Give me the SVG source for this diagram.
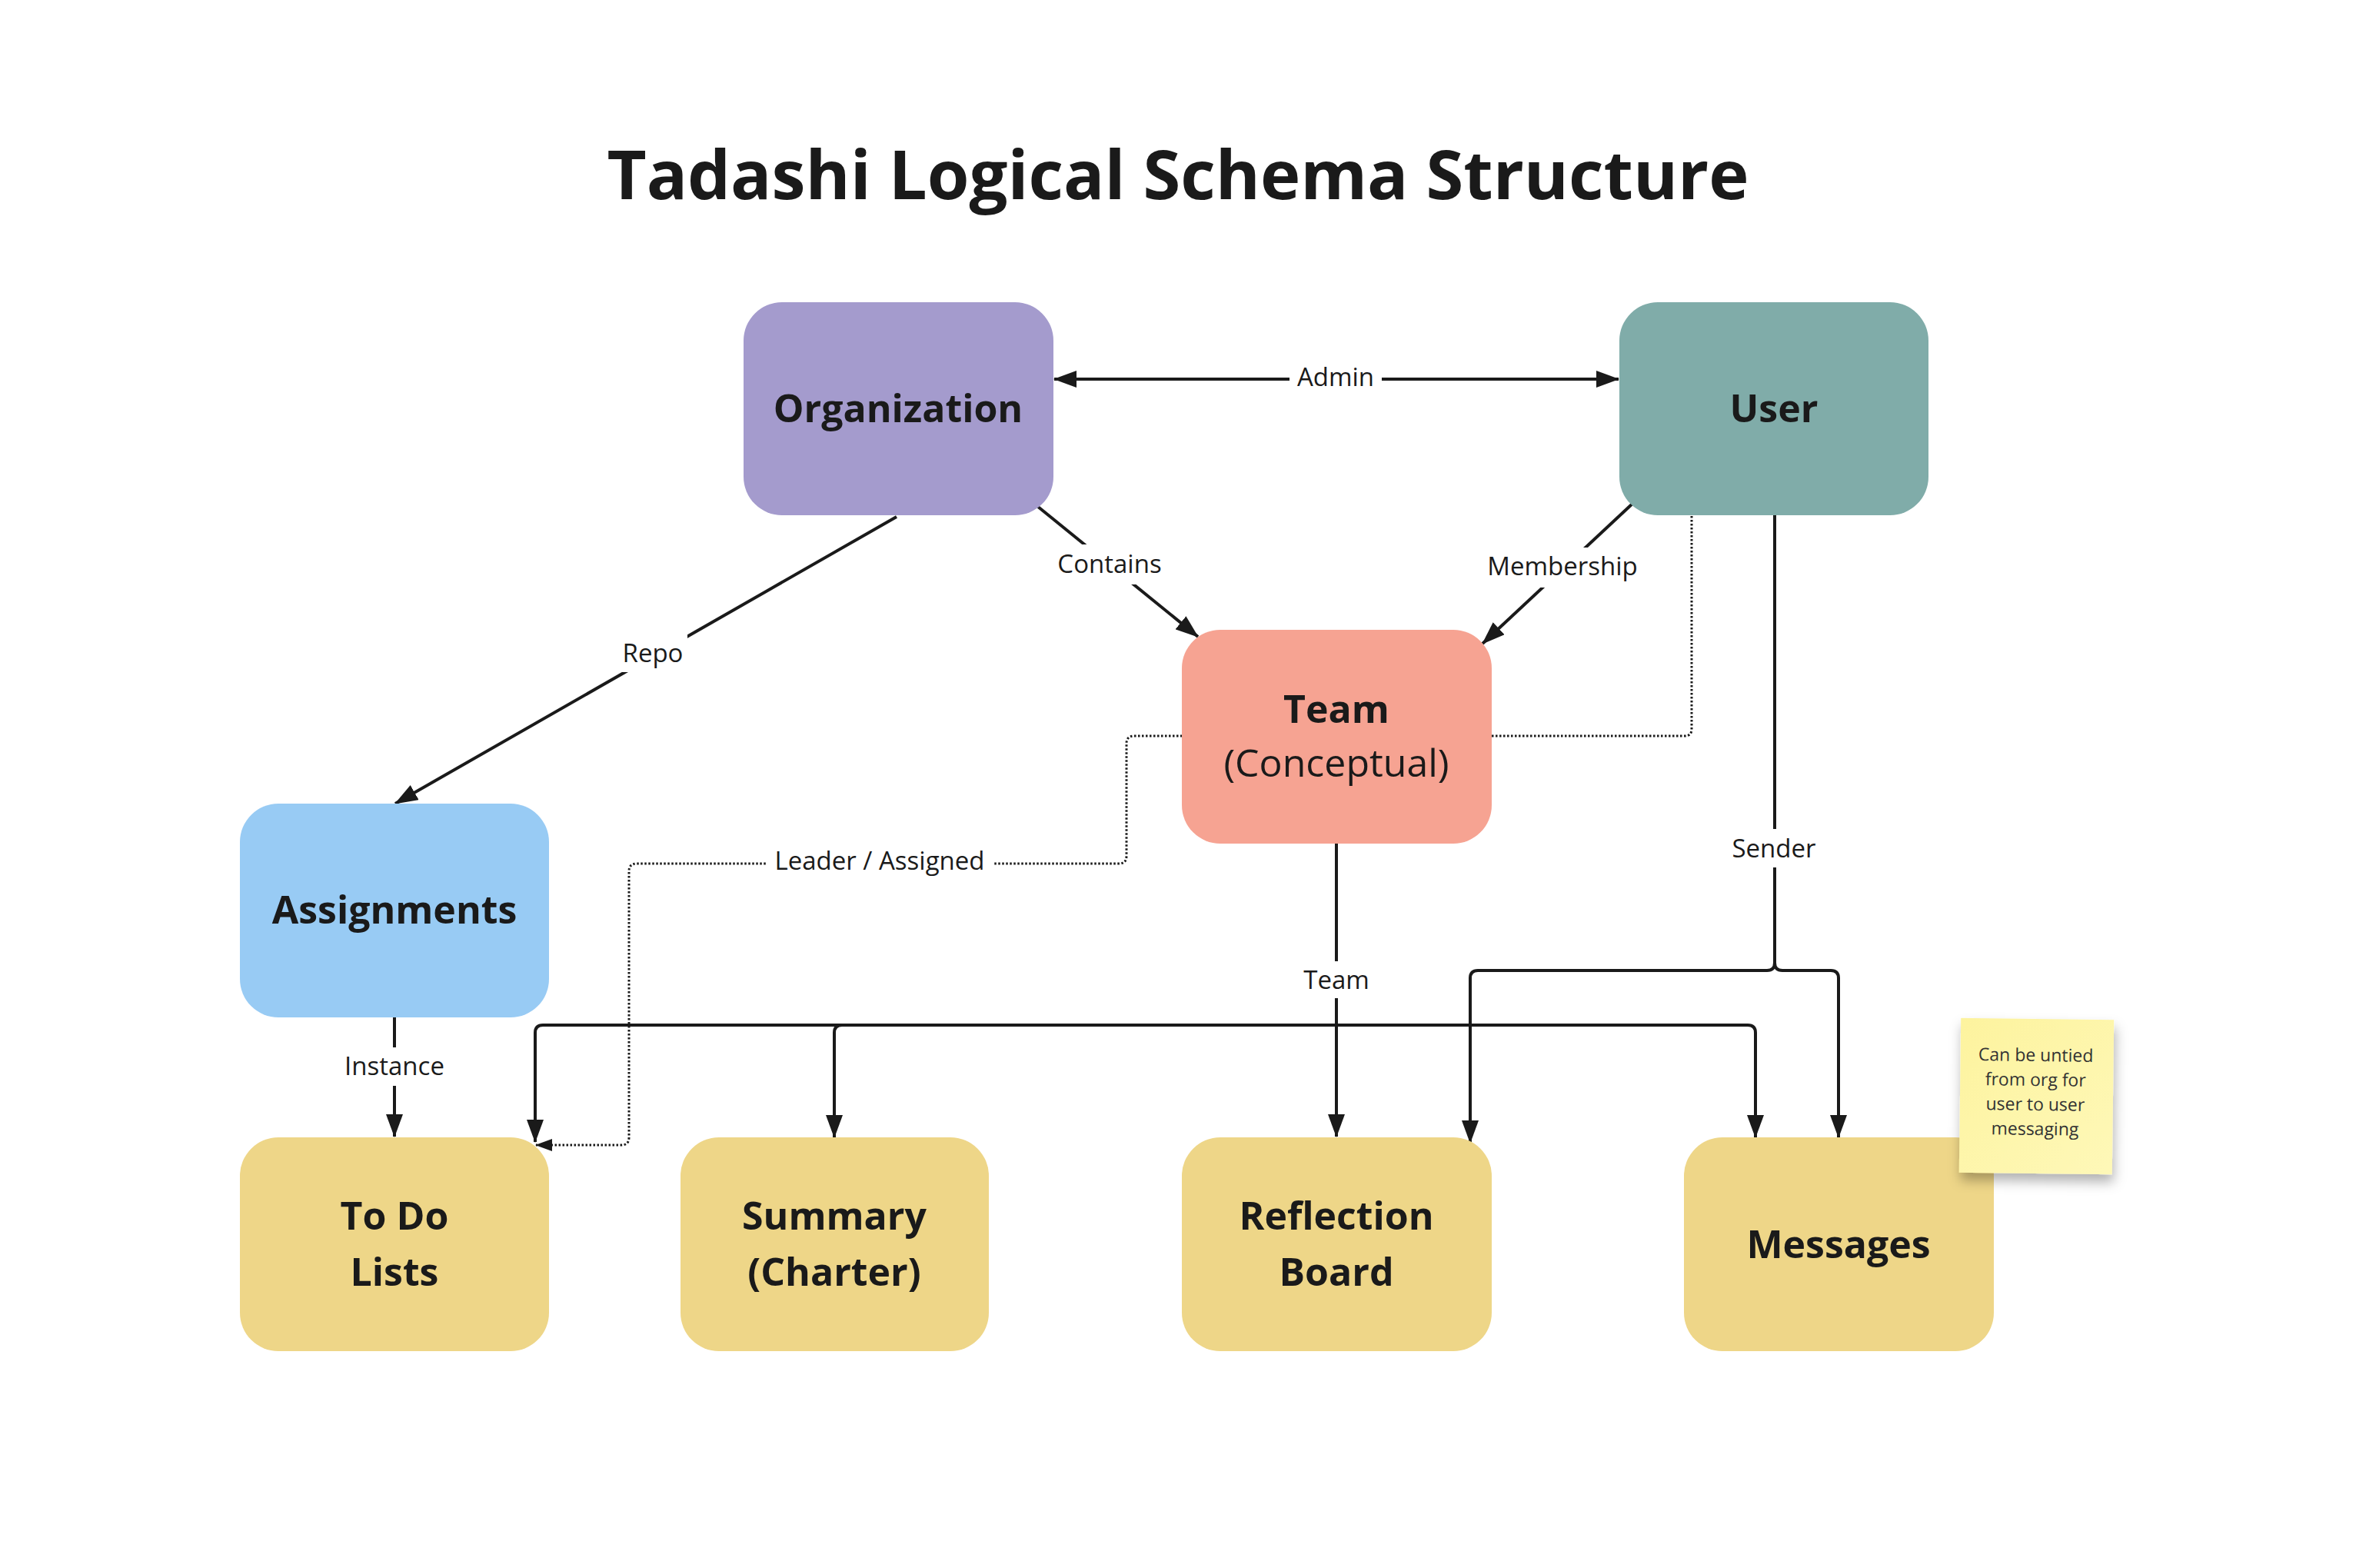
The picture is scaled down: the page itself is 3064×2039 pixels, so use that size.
<svg xmlns="http://www.w3.org/2000/svg" width="3064" height="2039" viewBox="0 0 3064 2039">
<style>
.title{font-family:"Open Sans","Liberation Sans",sans-serif;font-weight:700;font-size:88.5px;fill:#1a1a1a;text-anchor:middle}
.nt{font-family:"Open Sans","Liberation Sans",sans-serif;font-weight:700;font-size:50px;fill:#1a1a1a;text-anchor:middle}
.nr{font-family:"Open Sans","Liberation Sans",sans-serif;font-weight:400;font-size:50px;fill:#1a1a1a;text-anchor:middle}
.lbl{font-family:"Open Sans","Liberation Sans",sans-serif;font-weight:400;font-size:33px;fill:#1a1a1a;text-anchor:middle}
.sn{font-family:"Open Sans","Liberation Sans",sans-serif;font-weight:400;font-size:23px;fill:#333;text-anchor:middle}
.ln{fill:none;stroke:#1a1a1a;stroke-width:4}
.dot{fill:none;stroke:#1a1a1a;stroke-width:3;stroke-dasharray:2.5 2.5}
.bg{fill:#ffffff;stroke:none}
</style>
<defs>
<marker id="ah" markerUnits="userSpaceOnUse" markerWidth="30" markerHeight="22" refX="29" refY="11" orient="auto-start-reverse" viewBox="0 0 30 22">
<path d="M0,0 L30,11 L0,22 z" fill="#1a1a1a"/>
</marker>
<marker id="ahs" markerUnits="userSpaceOnUse" markerWidth="22" markerHeight="16" refX="21" refY="8" orient="auto" viewBox="0 0 22 16">
<path d="M0,0 L22,8 L0,16 z" fill="#1a1a1a"/>
</marker>
<linearGradient id="sg" x1="0" y1="0" x2="1" y2="1">
<stop offset="0" stop-color="#fdf39e"/>
<stop offset="1" stop-color="#fef8b8"/>
</linearGradient>
<filter id="sh" x="-20%" y="-20%" width="140%" height="150%">
<feDropShadow dx="2" dy="10" stdDeviation="8" flood-color="#000" flood-opacity="0.3"/>
</filter>
</defs>
<rect width="3064" height="2039" fill="#fff"/>
<text class="title" x="1532" y="259">Tadashi Logical Schema Structure</text>

<g id="connectors">
<path class="dot" d="M2200,671 L2200,948 Q2200,957 2191,957 L1475,957 Q1465,957 1465,967 L1465,1113 Q1465,1123 1455,1123 L828,1123 Q818,1123 818,1133 L818,1479 Q818,1489 808,1489 L697,1489" marker-end="url(#ahs)"/>
<path class="ln" d="M1371,493 L2105,493" marker-start="url(#ah)" marker-end="url(#ah)"/>
<path class="ln" d="M1166,672 L514,1045" marker-end="url(#ah)"/>
<path class="ln" d="M1350,659 L1558,828" marker-end="url(#ah)"/>
<path class="ln" d="M2123,655 L1928,837" marker-end="url(#ah)"/>
<path class="ln" d="M513,1323 L513,1478" marker-end="url(#ah)"/>
<path class="ln" d="M1738,1097 L1738,1478" marker-end="url(#ah)"/>
<path class="ln" d="M2308,670 L2308,1252 Q2308,1262 2298,1262 L1922,1262 Q1912,1262 1912,1272 L1912,1486" marker-end="url(#ah)"/>
<path class="ln" d="M2308,1252 Q2308,1262 2318,1262 L2381,1262 Q2391,1262 2391,1272 L2391,1479" marker-end="url(#ah)"/>
<path class="ln" d="M1738,1333 L706,1333 Q696,1333 696,1343 L696,1485" marker-end="url(#ah)"/>
<path class="ln" d="M1738,1333 L1095,1333 Q1085,1333 1085,1343 L1085,1479" marker-end="url(#ah)"/>
<path class="ln" d="M1738,1333 L2273,1333 Q2283,1333 2283,1343 L2283,1479" marker-end="url(#ah)"/>
<rect class="bg" x="1677" y="468" width="120" height="48"/>
<text class="lbl" x="1737" y="502">Admin</text>
<rect class="bg" x="804" y="824" width="90" height="50"/>
<text class="lbl" x="849" y="861">Repo</text>
<rect class="bg" x="1373" y="708" width="140" height="52"/>
<text class="lbl" x="1443" y="745">Contains</text>
<rect class="bg" x="1938" y="712" width="188" height="52"/>
<text class="lbl" x="2032" y="748">Membership</text>
<rect class="bg" x="996" y="1096" width="296" height="50"/>
<text class="lbl" x="1144" y="1131">Leader / Assigned</text>
<rect class="bg" x="445" y="1362" width="136" height="50"/>
<text class="lbl" x="513" y="1398">Instance</text>
<rect class="bg" x="1693" y="1250" width="90" height="48"/>
<text class="lbl" x="1738" y="1286">Team</text>
<rect class="bg" x="2244" y="1078" width="126" height="50"/>
<text class="lbl" x="2307" y="1115">Sender</text>
</g>

<g id="organization">
<rect x="967" y="393" width="403" height="277" rx="50" fill="#a49bcd"/>
<text class="nt" x="1168" y="549">Organization</text>
</g>
<g id="user">
<rect x="2106" y="393" width="402" height="277" rx="50" fill="#80aca9"/>
<text class="nt" x="2307" y="549">User</text>
</g>
<g id="team">
<rect x="1537" y="819" width="403" height="278" rx="50" fill="#f6a392"/>
<text class="nt" x="1738" y="940">Team</text>
<text class="nr" x="1738" y="1010">(Conceptual)</text>
</g>
<g id="assignments">
<rect x="312" y="1045" width="402" height="278" rx="50" fill="#98cbf4"/>
<text class="nt" x="513" y="1201">Assignments</text>
</g>
<g id="todo">
<rect x="312" y="1479" width="402" height="278" rx="50" fill="#eed688"/>
<text class="nt" x="513" y="1599">To Do</text>
<text class="nt" x="513" y="1672">Lists</text>
</g>
<g id="summary">
<rect x="885" y="1479" width="401" height="278" rx="50" fill="#eed688"/>
<text class="nt" x="1085" y="1599">Summary</text>
<text class="nt" x="1085" y="1672">(Charter)</text>
</g>
<g id="reflection">
<rect x="1537" y="1479" width="403" height="278" rx="50" fill="#eed688"/>
<text class="nt" x="1738" y="1599">Reflection</text>
<text class="nt" x="1738" y="1672">Board</text>
</g>
<g id="messages">
<rect x="2190" y="1479" width="403" height="278" rx="50" fill="#eed688"/>
<text class="nt" x="2391" y="1636">Messages</text>
</g>
<g id="note" transform="rotate(0.7 2648 1425)">
<rect x="2549" y="1325" width="199" height="201" fill="url(#sg)" filter="url(#sh)"/>
<text class="sn" x="2647" y="1380">Can be untied</text>
<text class="sn" x="2647" y="1412">from org for</text>
<text class="sn" x="2647" y="1444">user to user</text>
<text class="sn" x="2647" y="1476">messaging</text>
</g>
</svg>
